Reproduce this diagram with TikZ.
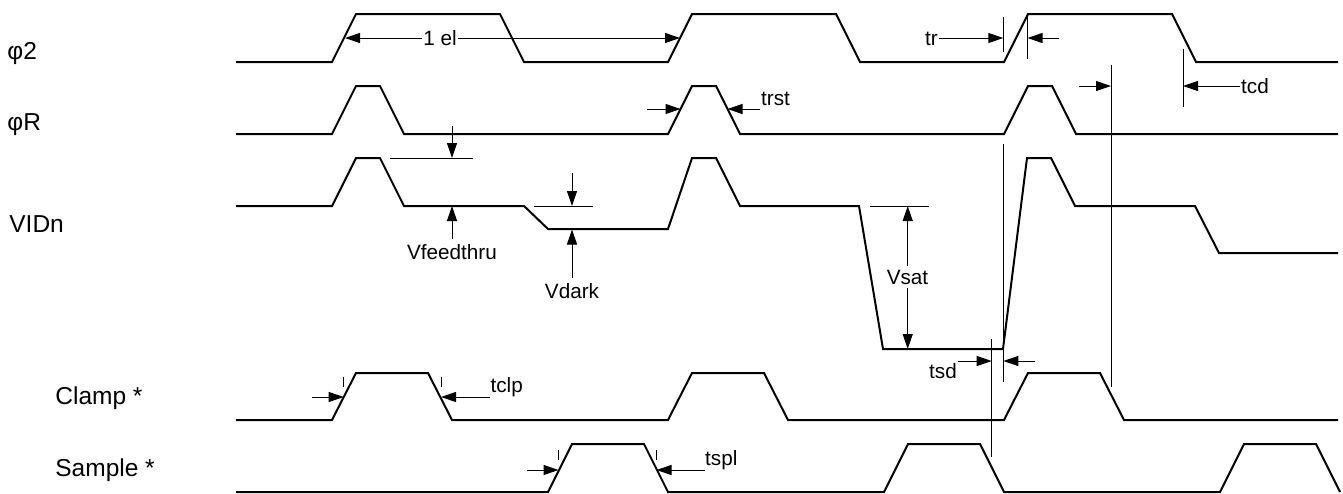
\documentclass[tikz,border=0pt]{standalone}
\usepackage{fontspec}
\setmainfont{Liberation Sans}
\usetikzlibrary{arrows.meta,calc,positioning}

\begin{document}
\begin{tikzpicture}[x=0.5pt,y=-0.5pt,
    wave/.style={line width=1pt,line join=miter},
    dimline/.style={line width=0.5pt},
    arr/.style={dimline,-{Triangle[length=7.5pt,width=5pt]}},
    darr/.style={dimline,{Triangle[length=7.5pt,width=5pt]}-{Triangle[length=7.5pt,width=5pt]}},
    lbl/.style={font=\fontsize{12.25}{14}\selectfont,inner sep=0pt,anchor=base west},
    note/.style={font=\fontsize{10.35}{12}\selectfont,inner sep=0.5pt,text height=7.4pt,text depth=0pt}]
    \useasboundingbox (0,0) rectangle (1343,493);

    % signal names
    \node[lbl] (phi2) at (7,59) {φ2};
    \node[lbl] (phiR) at (7,130) {φR};
    \node[lbl] (vid) at (9,232) {VIDn};
    \node[lbl] (clamp) at (55,404.5) {Clamp *};
    \node[lbl] (sample) at (55,476) {Sample *};

    % waveforms
    \draw[wave] (236,62) foreach \t in {332,668,1004} {
      -- (\t,62) -- (\t+24,14) -- (\t+168,14) -- (\t+192,62) } -- (1338,62);
    \draw[wave] (236,134) foreach \t in {332,668,1004} {
      -- (\t,134) -- (\t+24,86) -- (\t+48,86) -- (\t+72,134) } -- (1338,134);
    \draw[wave] (236,206) -- (332,206) -- (356,158) -- (380,158) -- (404,206)
      -- (524,206) -- (548,229) -- (668,229) -- (692,158) -- (716,158) -- (740,206)
      -- (859,206) -- (883,349) -- (1003,349) -- (1027,158) -- (1051,158) -- (1075,206)
      -- (1195,206) -- (1219,253) -- (1338,253);
    \draw[wave] (236,420) foreach \t in {332,668,1004} {
      -- (\t,420) -- (\t+24,373) -- (\t+96,373) -- (\t+120,420) } -- (1338,420);
    \draw[wave] (236,492) foreach \t in {548,884,1220} {
      -- (\t,492) -- (\t+24,444) -- (\t+96,444) -- (\t+120,492) };

    % 1 el
    \node[note] (el) at (440,38) {1 el};
    \draw[arr] (el.west) -- (345,38);
    \draw[arr] (el.east) -- (680,38);

    % tr
    \node[note] (tr) at (931.5,38) {tr};
    \draw[dimline] (1003.3,17) -- (1003.3,52);
    \draw[dimline] (1027.5,14) -- (1027.5,59);
    \draw[arr] (tr.east) -- (1003.3,38);
    \draw[arr] (1059,38) -- (1027.5,38);

    % trst
    \node[note] (trst) at (775.5,98) {trst};
    \draw[arr] (647,109) -- (680.5,109);
    \draw[arr] (trst.west |- 0,109) -- (727.5,109);

    % tcd
    \node[note] (tcd) at (1255,86) {tcd};
    \draw[dimline] (1183,49) -- (1183,107);
    \draw[arr] (tcd.west) -- (1183,86);
    \draw[dimline] (1111,65) -- (1111,387);
    \draw[arr] (1079,86) -- (1111,86);

    % Vfeedthru
    \draw[dimline] (390,158) -- (473,158);
    \draw[arr] (452,126) -- (452,158);
    \node[note] (vft) at (452,252.5) {Vfeedthru};
    \draw[arr] ([yshift=2.5pt]vft.north) -- (452,206);

    % Vdark
    \draw[dimline] (534,206) -- (593,206);
    \draw[arr] (572,173) -- (572,206);
    \node[note] (vdk) at (572,291.3) {Vdark};
    \draw[arr] ([yshift=2.5pt]vdk.north) -- (572,229.5);

    % Vsat
    \draw[dimline] (870,206) -- (929,206);
    \draw[darr] (907.7,206) -- (907.7,349);
    \node[note,fill=white,inner sep=2pt] (vsat) at (907.5,277) {Vsat};

    % tsd
    \node[note] (tsd) at (943,371.5) {tsd};
    \draw[dimline] (991.7,339) -- (991.7,457);
    \draw[dimline] (1003.3,144) -- (1003.3,382);
    \draw[arr] (958,361) -- (991.7,361);
    \draw[arr] (1035,361) -- (1003.3,361);

    % tclp
    \draw[dimline] (343.3,377) -- (343.3,387);
    \draw[dimline] (441,377) -- (441,387);
    \draw[arr] (312,397) -- (343.7,397);
    \node[note] (tclp) at (506.7,385) {tclp};
    \draw[arr] (490,397) -- (441,397);

    % tspl
    \draw[dimline] (558.3,450) -- (558.3,460);
    \draw[dimline] (656,450) -- (656,460);
    \draw[arr] (527,470) -- (558.5,470);
    \node[note] (tspl) at (721.3,458.3) {tspl};
    \draw[arr] (705,470) -- (656.5,470);
\end{tikzpicture}
\end{document}
